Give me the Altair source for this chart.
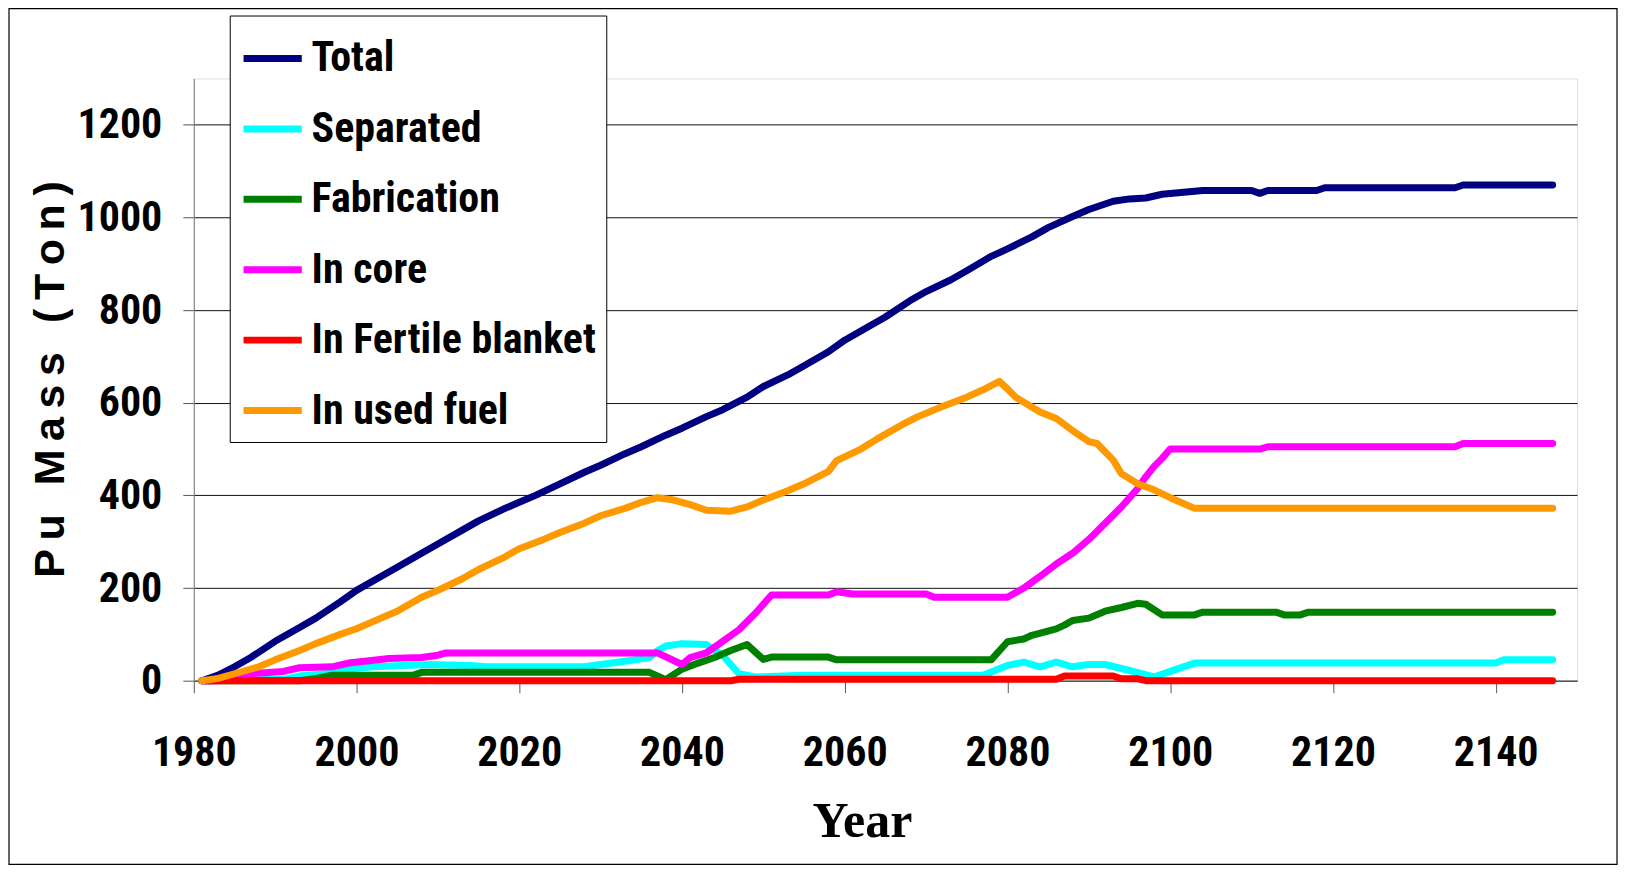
import altair as alt
import pandas as pd

SERIES = ["Total", "Separated", "Fabrication", "In core", "In Fertile blanket", "In used fuel"]
COLORS = ["#000080", "#00FFFF", "#008000", "#FF00FF", "#FF0000", "#FF9900"]

NARROW = "'Liberation Sans Narrow', 'Arial Narrow', 'Roboto Condensed', 'Liberation Sans', Arial, sans-serif"

total_years = [1981, 1983, 1985, 1987, 1990, 1993, 1995, 1998, 2000, 2003, 2005, 2008, 2010, 2013,
               2015, 2018, 2020, 2022, 2025, 2028, 2030, 2033, 2035, 2038, 2040, 2043, 2045, 2048,
               2050, 2053, 2055, 2058, 2060, 2063, 2065, 2068, 2070, 2073, 2075, 2078, 2080, 2083,
               2085, 2088, 2090, 2093, 2095, 2097, 2099, 2104, 2110, 2111, 2112, 2118, 2119, 2135,
               2136, 2147]
total_pu = [0, 12, 30, 50, 85, 115, 135, 170, 195, 225, 245, 275, 295, 325,
            345, 370, 385, 400, 425, 450, 465, 490, 505, 530, 545, 570, 585, 612,
            635, 660, 680, 710, 735, 765, 785, 820, 840, 865, 885, 916, 932, 958,
            978, 1002, 1017, 1035, 1040, 1042, 1050, 1058, 1058, 1052, 1058, 1058, 1064, 1064,
            1070, 1070]

separated_years = [1981, 1991, 1993, 1996, 1999, 2002, 2009, 2014, 2016, 2028, 2030, 2033, 2036,
                   2037, 2038, 2040, 2043, 2045, 2047, 2049, 2055, 2077, 2080, 2082, 2084, 2086,
                   2088, 2090, 2092, 2095, 2098, 2100, 2103, 2140, 2141, 2147]
separated_pu = [0, 3, 10, 15, 25, 30, 35, 33, 30, 30, 35, 42, 50,
                65, 75, 80, 78, 55, 15, 8, 12, 12, 33, 40, 30, 40,
                30, 35, 35, 22, 8, 20, 38, 38, 45, 45]

fabrication_years = [1981, 1993, 1995, 1997, 2007, 2008, 2036, 2038, 2040, 2042, 2044, 2046, 2048,
                     2050, 2051, 2058, 2059, 2078, 2080, 2082, 2083, 2086, 2087, 2088, 2090, 2092,
                     2094, 2096, 2097, 2099, 2103, 2104, 2113, 2114, 2116, 2117, 2147]
fabrication_pu = [0, 0, 5, 12, 12, 18, 18, 2, 25, 38, 50, 65, 78,
                  46, 51, 51, 45, 45, 84, 90, 98, 112, 120, 130, 135, 150,
                  158, 167, 165, 142, 142, 148, 148, 142, 142, 148, 148]

core_years = [1981, 1983, 1987, 1991, 1993, 1997, 1999, 2001, 2004, 2008, 2010, 2011, 2037, 2040,
              2041, 2043, 2045, 2047, 2049, 2050, 2051, 2058, 2059, 2061, 2070, 2071, 2080, 2082,
              2084, 2086, 2088, 2090, 2092, 2094, 2096, 2097, 2098, 2099, 2100, 2111, 2112, 2135,
              2136, 2147]
core_pu = [0, 0, 15, 20, 28, 30, 38, 42, 48, 50, 55, 60, 60, 35,
           50, 60, 85, 110, 145, 165, 185, 185, 192, 187, 187, 180, 180, 200,
           225, 252, 275, 305, 340, 375, 415, 440, 462, 480, 500, 500, 505, 505,
           512, 512]

blanket_years = [1981, 2046, 2047, 2086, 2087, 2093, 2094, 2096, 2097, 2147]
blanket_pu = [0, 0, 3, 3, 10, 10, 4, 4, 0, 0]

used_years = [1981, 1983, 1985, 1988, 1990, 1993, 1995, 1998, 2000, 2003, 2005, 2008, 2010, 2013,
              2015, 2018, 2020, 2023, 2025, 2028, 2030, 2033, 2035, 2037, 2039, 2041, 2043, 2046,
              2048, 2050, 2053, 2055, 2058, 2059, 2062, 2064, 2067, 2069, 2072, 2075, 2077, 2079,
              2080, 2081, 2084, 2086, 2088, 2090, 2091, 2093, 2094, 2096, 2098, 2100, 2103, 2147]
used_pu = [0, 5, 15, 30, 45, 65, 80, 100, 112, 135, 150, 180, 195, 220,
           240, 265, 285, 305, 320, 340, 356, 372, 385, 395, 390, 380, 368, 366,
           375, 390, 410, 425, 452, 475, 500, 522, 552, 570, 592, 612, 628, 646,
           630, 612, 580, 566, 540, 516, 512, 476, 447, 425, 412, 395, 372, 372]

year_ticks = [1980, 2000, 2020, 2040, 2060, 2080, 2100, 2120, 2140]
mass_ticks = [0, 200, 400, 600, 800, 1000, 1200]

series_data = [
    ("Total", total_years, total_pu),
    ("Separated", separated_years, separated_pu),
    ("Fabrication", fabrication_years, fabrication_pu),
    ("In core", core_years, core_pu),
    ("In Fertile blanket", blanket_years, blanket_pu),
    ("In used fuel", used_years, used_pu),
]

x_enc = alt.X(
    "year:Q",
    scale=alt.Scale(domain=[1980, 2150], nice=False, zero=False),
    axis=alt.Axis(
        values=year_ticks, format="d", grid=False,
        domainColor="#555555", tickColor="#555555", tickSize=12,
        labelFont=NARROW, labelFontSize=42, labelFontWeight="bold", labelColor="black",
        labelPadding=40, labelFlush=False,
        title="Year", titleFont="'Liberation Serif', serif", titleFontSize=50,
        titleFontWeight="bold", titleColor="black",
        titleX=669, titleY=156, titleBaseline="alphabetic", titleAnchor="middle", titleAlign="center",
    ),
)
y_enc = alt.Y(
    "pu:Q",
    scale=alt.Scale(domain=[0, 1300], nice=False),
    axis=alt.Axis(
        values=mass_ticks, format="d", grid=True, gridColor="#111111", gridWidth=1,
        domainColor="#777777", tickColor="#555555", tickSize=11,
        labelFont=NARROW, labelFontSize=42, labelFontWeight="bold", labelColor="black",
        labelPadding=21,
        title="P\u2009u\u2009 \u2009M\u2009a\u2009s\u2009s\u2009 \u2009(\u2009T\u2009o\u2009n\u2009)",
        titleFont="'Liberation Sans', Arial, sans-serif", titleFontSize=43, titleFontWeight="bold",
        titleColor="black", titleAngle=270, titleX=-143, titleY=301,
        titleAlign="center", titleBaseline="middle",
    ),
)
color_enc = alt.Color(
    "series:N",
    scale=alt.Scale(domain=SERIES, range=COLORS),
    legend=alt.Legend(
        title=None, orient="none", legendX=36, legendY=-63,
        symbolType="stroke", symbolStrokeWidth=7, symbolSize=3400,
        labelFont=NARROW, labelFontSize=42, labelFontWeight="bold", labelColor="black",
        labelLimit=500, labelOffset=6, rowPadding=16.5, padding=10,
        strokeColor="black", fillColor="white", cornerRadius=0,
    ),
)

layers = []
for name, years, values in series_data:
    df = pd.DataFrame({"year": years, "pu": values, "series": name})
    layers.append(
        alt.Chart(df)
        .mark_line(strokeWidth=7, strokeCap="round", strokeJoin="round")
        .encode(x=x_enc, y=y_enc, color=color_enc)
    )

border = (
    alt.Chart(pd.DataFrame({"k": [0]}))
    .mark_rect(fillOpacity=0, stroke="black", strokeWidth=1.2)
    .encode(x=alt.value(-185), x2=alt.value(1425), y=alt.value(-70), y2=alt.value(787))
)

chart = (
    alt.layer(*layers, border)
    .properties(
        width=1385,
        height=603,
        autosize=alt.AutoSizeParams(type="none"),
        padding={"left": 186, "top": 70, "right": 42, "bottom": 186},
    )
    .configure_view(strokeWidth=0)
    .configure(background="white")
)

chart.save("out.html", embed_options={"renderer": "svg", "actions": False})
